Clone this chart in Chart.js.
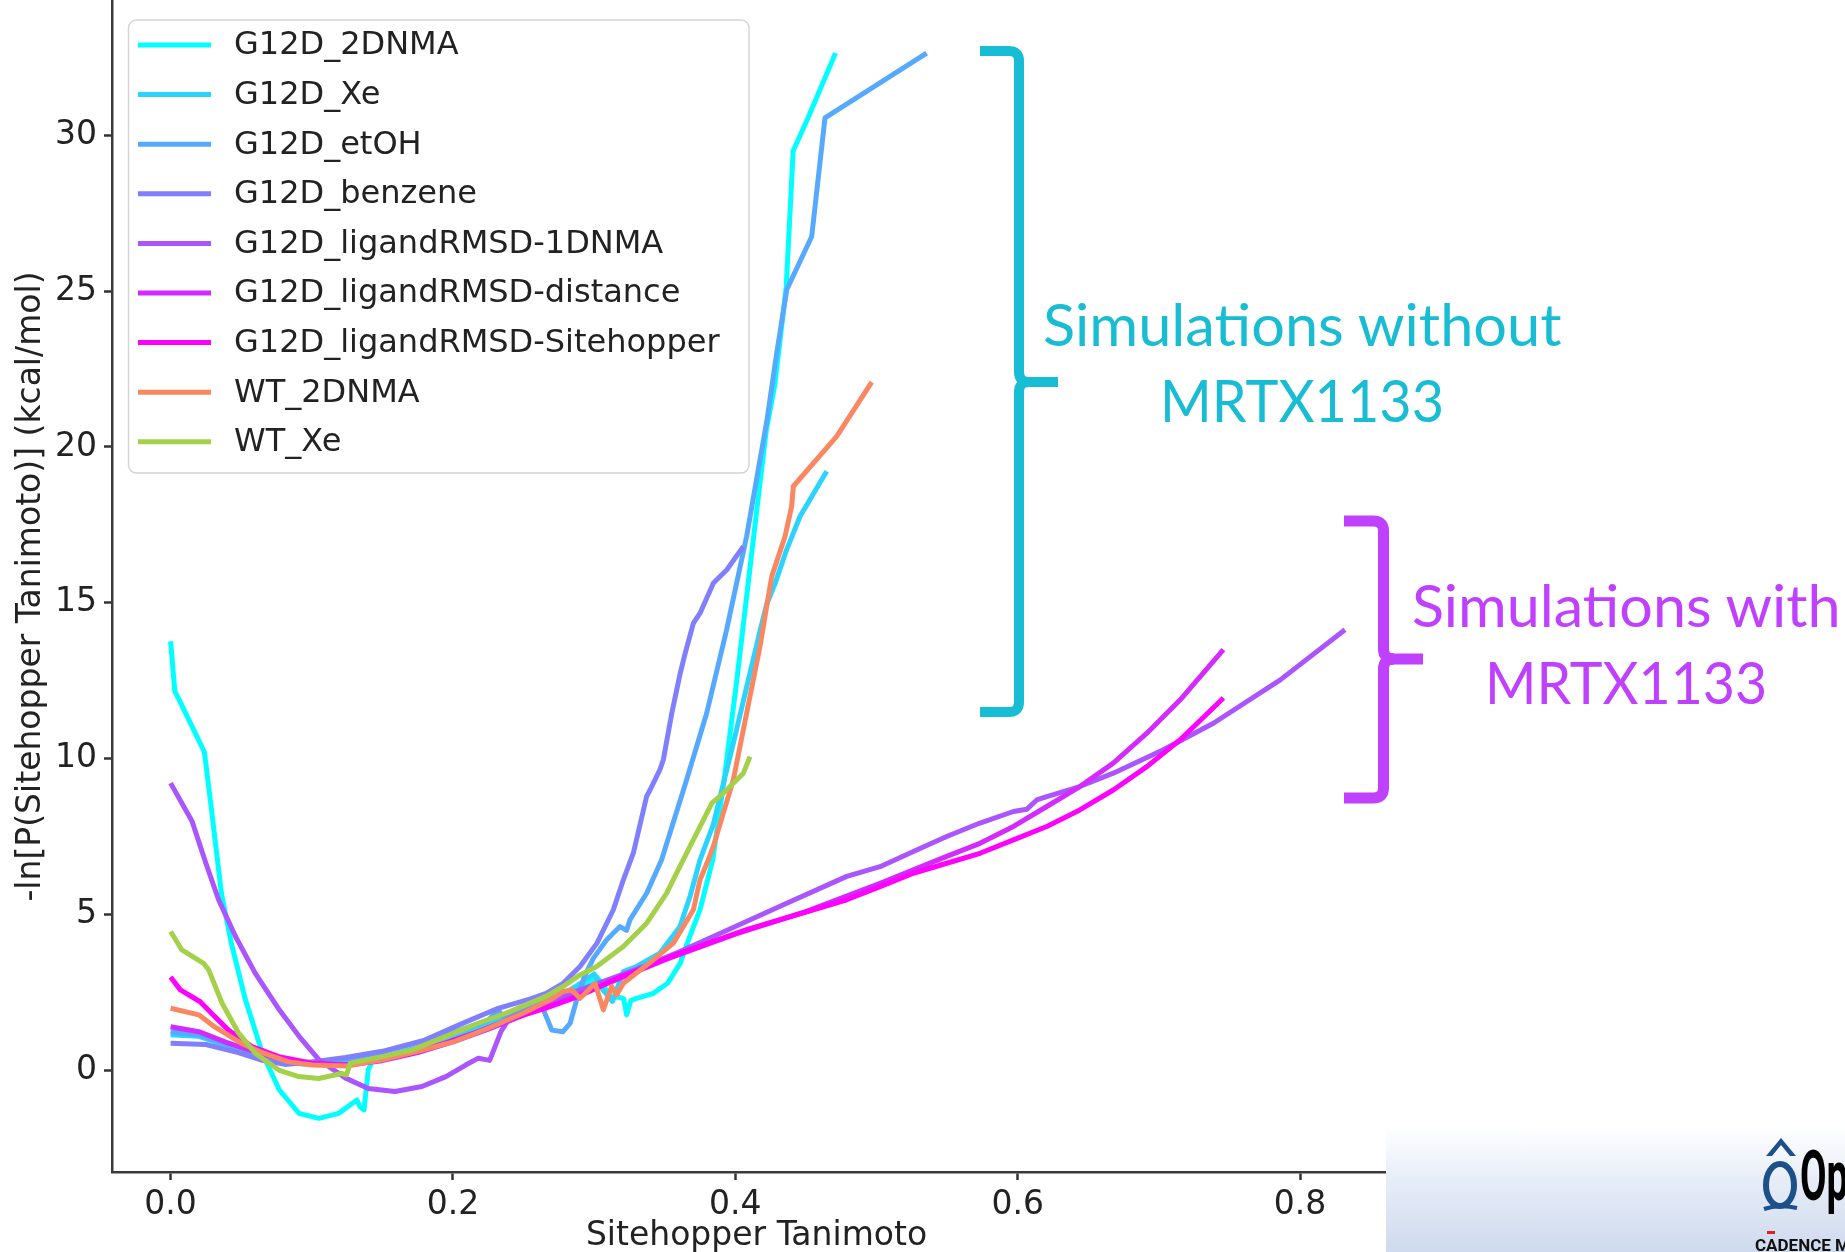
<!DOCTYPE html>
<html>
<head>
<meta charset="utf-8">
<script src="https://cdn.jsdelivr.net/npm/chart.js@4.4.1/dist/chart.umd.min.js"></script>
<style>
html, body { margin: 0; padding: 0; background: #fff; }
#stage { position: relative; width: 1845px; height: 1252px; overflow: hidden; background: #fff; }
#chart { position: absolute; left: 0; top: 0; }
#overlay { position: absolute; left: 0; top: 0; }
.ann { position: absolute; white-space: nowrap; transform-origin: 0 0; margin: 0; padding: 0; }
#panel { position: absolute; left: 1386px; top: 1126px; width: 459px; height: 126px;
  background: linear-gradient(to bottom, #ffffff 0%, #e6ecf7 45%, #cfdaee 100%); }
#reddash { position: absolute; left: 1767px; top: 1231px; width: 8px; height: 3px; background: #e02026; }
</style>
</head>
<body>
<div id="stage">
  <canvas id="chart" width="1845" height="1252"></canvas>
  <svg id="overlay" width="1845" height="1252" viewBox="0 0 1845 1252" xmlns="http://www.w3.org/2000/svg">
    <g fill="none" stroke="#17bdd4" stroke-width="10">
      <path d="M980,51 H1009 Q1019,51 1019,61 V372 Q1019,382 1029,382"/>
      <path d="M1019,382 H1058"/>
      <path d="M1029,382 Q1019,382 1019,392 V702 Q1019,712 1009,712 H980"/>
    </g>
    <g fill="none" stroke="#c040ff" stroke-width="11">
      <path d="M1344,521 H1373 Q1383.5,521 1383.5,531 V649 Q1383.5,659 1394,659"/>
      <path d="M1383.5,659 H1423"/>
      <path d="M1394,659 Q1383.5,659 1383.5,669 V788 Q1383.5,798 1373,798 H1344"/>
    </g>
  </svg>
  <div id="panel"></div>
  <svg id="logo" width="1845" height="1252" viewBox="0 0 1845 1252" style="position:absolute;left:0;top:0" xmlns="http://www.w3.org/2000/svg">
    <path d="M1766,1156 L1781,1138 L1796,1156 L1790,1156 L1781,1145 L1772,1156 Z" fill="#1d4f8b"/>
    <ellipse cx="1780" cy="1185" rx="14" ry="21" fill="none" stroke="#1d4f8b" stroke-width="6"/>
    <path d="M1764,1209 Q1780,1204 1797,1208" fill="none" stroke="#1d4f8b" stroke-width="4"/>
  </svg>
  <div id="reddash"></div>
</div>
<script>
// ---------------- data ----------------
const seriesLabels = [
  'G12D_2DNMA', 'G12D_Xe', 'G12D_etOH', 'G12D_benzene',
  'G12D_ligandRMSD-1DNMA', 'G12D_ligandRMSD-distance', 'G12D_ligandRMSD-Sitehopper',
  'WT_2DNMA', 'WT_Xe'
];
const xTickValues = [0, 0.2, 0.4, 0.6, 0.8];
const yTickValues = [0, 5, 10, 15, 20, 25, 30];

const g12d_2dnma = [[0,13.77],[0.003,12.16],[0.006,11.9],[0.022,10.4],[0.024,10.2],[0.029,8.36],[0.036,5.69],[0.043,4.09],[0.053,2.27],[0.065,0.56],[0.077,-0.62],[0.091,-1.37],[0.105,-1.53],[0.119,-1.37],[0.132,-0.94],[0.134,-1.15],[0.137,-1.26],[0.140,0.02],[0.143,0.32],[0.160,0.55],[0.180,0.78],[0.200,1.05],[0.220,1.4],[0.240,1.8],[0.260,2.1],[0.280,2.45],[0.295,2.75],[0.302,3.0],[0.307,2.7],[0.312,2.35],[0.318,2.35],[0.321,2.3],[0.323,1.79],[0.326,2.25],[0.330,2.32],[0.342,2.48],[0.352,2.8],[0.361,3.45],[0.366,4.09],[0.375,5.16],[0.384,6.76],[0.392,9.3],[0.401,12.5],[0.408,15.2],[0.415,17.9],[0.422,20.55],[0.428,22.0],[0.436,25.1],[0.441,29.5],[0.451,30.5],[0.471,32.63]];
const g12d_xe = [[0,1.15],[0.02,1.1],[0.04,0.8],[0.06,0.45],[0.08,0.25],[0.10,0.2],[0.12,0.22],[0.14,0.35],[0.16,0.55],[0.18,0.8],[0.20,1.1],[0.22,1.45],[0.24,1.85],[0.26,2.2],[0.28,2.5],[0.292,2.85],[0.300,3.1],[0.306,2.6],[0.313,2.22],[0.3207,3.18],[0.33,3.34],[0.3466,3.77],[0.3608,4.62],[0.368,5.6],[0.375,6.76],[0.3844,7.9],[0.3915,9.2],[0.3986,10.5],[0.408,12.3],[0.4175,14.1],[0.4222,14.95],[0.428,15.6],[0.4363,16.7],[0.4458,17.77],[0.4647,19.22]];
const g12d_etoh = [[0,1.25],[0.02,1.15],[0.04,0.85],[0.06,0.5],[0.08,0.3],[0.10,0.27],[0.125,0.38],[0.15,0.6],[0.175,0.9],[0.20,1.22],[0.225,1.62],[0.232,1.95],[0.236,1.7],[0.25,1.95],[0.262,2.18],[0.266,1.74],[0.27,1.3],[0.278,1.25],[0.283,1.52],[0.2876,2.27],[0.293,3.0],[0.2994,3.6],[0.3089,4.2],[0.3183,4.62],[0.323,4.5],[0.3254,4.84],[0.3372,5.69],[0.3478,6.76],[0.3655,9.33],[0.3797,11.46],[0.3938,14.13],[0.408,17.13],[0.415,18.95],[0.4222,20.8],[0.4293,23.0],[0.4364,25.04],[0.4541,26.75],[0.4635,30.55],[0.5355,32.63]];
const g12d_benzene = [[0,0.88],[0.025,0.84],[0.048,0.58],[0.065,0.33],[0.081,0.2],[0.10,0.28],[0.124,0.42],[0.15,0.62],[0.18,0.98],[0.206,1.5],[0.232,2.0],[0.255,2.3],[0.266,2.48],[0.278,2.8],[0.29,3.34],[0.302,4.09],[0.3136,5.16],[0.3207,6.12],[0.3278,6.98],[0.3372,8.8],[0.3396,9.0],[0.3466,9.65],[0.349,9.97],[0.355,11.46],[0.361,12.75],[0.3645,13.39],[0.3703,14.35],[0.375,14.67],[0.3845,15.64],[0.394,16.06],[0.4057,16.81]];
const g12d_1dnma = [[0,9.22],[0.0152,8.0],[0.025,6.65],[0.034,5.48],[0.046,4.3],[0.06,3.12],[0.077,1.95],[0.091,1.1],[0.105,0.35],[0.124,-0.24],[0.14,-0.57],[0.159,-0.67],[0.178,-0.51],[0.195,-0.19],[0.209,0.18],[0.218,0.4],[0.226,0.33],[0.234,1.25],[0.24,1.68],[0.26,2.05],[0.28,2.42],[0.30,2.75],[0.33,3.25],[0.36,3.8],[0.3844,4.3],[0.4317,5.27],[0.4789,6.23],[0.5025,6.54],[0.5261,7.03],[0.5497,7.51],[0.5733,7.94],[0.597,8.31],[0.6064,8.38],[0.6135,8.68],[0.6206,8.79],[0.644,9.11],[0.6677,9.54],[0.7032,10.29],[0.7386,11.14],[0.786,12.53],[0.8318,14.14]];
const g12d_distance = [[0,1.41],[0.02,1.25],[0.04,0.9],[0.06,0.6],[0.08,0.35],[0.10,0.22],[0.125,0.18],[0.15,0.32],[0.175,0.58],[0.20,0.92],[0.225,1.33],[0.25,1.78],[0.275,2.18],[0.30,2.62],[0.35,3.55],[0.40,4.38],[0.45,5.1],[0.5025,6.01],[0.5261,6.44],[0.5497,6.87],[0.5733,7.29],[0.597,7.83],[0.6206,8.47],[0.644,9.11],[0.6677,9.86],[0.6915,10.82],[0.7151,11.89],[0.7457,13.5]];
const g12d_sitehopper = [[0,3.0],[0.0069,2.59],[0.021,2.21],[0.029,1.84],[0.041,1.3],[0.0576,0.77],[0.0766,0.45],[0.10,0.24],[0.1237,0.18],[0.1473,0.34],[0.1709,0.56],[0.1945,0.88],[0.218,1.25],[0.2417,1.68],[0.2653,2.0],[0.2889,2.38],[0.3136,2.91],[0.3608,3.77],[0.408,4.52],[0.4553,5.16],[0.4789,5.48],[0.5025,5.9],[0.5261,6.33],[0.5497,6.65],[0.5733,6.97],[0.597,7.4],[0.6206,7.83],[0.644,8.36],[0.6677,9.0],[0.6915,9.75],[0.7151,10.61],[0.7457,11.95]];
const wt_2dnma = [[0,2.0],[0.02,1.79],[0.031,1.41],[0.05,0.88],[0.066,0.56],[0.083,0.29],[0.10,0.18],[0.125,0.15],[0.15,0.35],[0.175,0.62],[0.20,0.92],[0.225,1.36],[0.25,1.85],[0.27,2.3],[0.278,2.54],[0.284,2.59],[0.29,2.32],[0.295,2.54],[0.3006,2.8],[0.3065,1.95],[0.3124,2.7],[0.3159,2.43],[0.3207,2.8],[0.3254,2.97],[0.3419,3.55],[0.3561,4.09],[0.3703,5.16],[0.375,6.12],[0.3809,6.76],[0.3844,7.19],[0.3915,8.26],[0.3986,9.33],[0.408,11.46],[0.4175,13.61],[0.4222,14.89],[0.4258,15.85],[0.4352,17.13],[0.4399,18.1],[0.4411,18.74],[0.4718,20.34],[0.4966,22.08]];
const wt_xe = [[0,4.46],[0.008,3.87],[0.0234,3.44],[0.027,3.23],[0.0364,2.17],[0.0482,1.2],[0.06,0.56],[0.0766,0.02],[0.0907,-0.19],[0.1049,-0.25],[0.1212,-0.09],[0.1245,-0.14],[0.1273,0.24],[0.15,0.45],[0.1709,0.66],[0.1945,1.09],[0.218,1.52],[0.2375,1.84],[0.2658,2.38],[0.278,2.7],[0.29,3.07],[0.3018,3.34],[0.3207,3.98],[0.3372,4.73],[0.3514,5.69],[0.356,6.12],[0.3679,7.19],[0.3834,8.58],[0.3916,8.9],[0.4057,9.54],[0.4104,10.07]];

const seriesData = [g12d_2dnma, g12d_xe, g12d_etoh, g12d_benzene, g12d_1dnma, g12d_distance, g12d_sitehopper, wt_2dnma, wt_xe];

// ---------------- styling / layout ----------------
const seriesColors = ['#00ffff', '#2ad4ff', '#55aaff', '#807fff', '#aa55ff', '#d42aff', '#ff00ff', '#f98862', '#a4d04a'];
const X_MIN = -0.0415, X_MAX = 0.8715, Y_MIN = -3.25, Y_MAX = 34.3;
const FONT = "'DejaVu Sans'";
const TXT = '#222222';

const datasets = seriesData.map((pts, i) => ({
  label: seriesLabels[i],
  data: pts.map(p => ({ x: p[0], y: p[1] })),
  borderColor: seriesColors[i],
  backgroundColor: seriesColors[i],
  borderWidth: 5,
  pointRadius: 0,
  tension: 0,
  fill: false,
  borderJoinStyle: 'round',
  order: -i
}));

const legendPlugin = {
  id: 'mplLegend',
  afterDraw(chart) {
    const ctx = chart.ctx;
    ctx.save();
    ctx.beginPath();
    ctx.roundRect(128.5, 20, 620.5, 453, 8);
    ctx.fillStyle = 'rgba(255,255,255,0.8)';
    ctx.fill();
    ctx.lineWidth = 1.5;
    ctx.strokeStyle = '#d5d5d5';
    ctx.stroke();
    ctx.font = '32px ' + FONT;
    ctx.textBaseline = 'middle';
    ctx.textAlign = 'left';
    chart.data.datasets.forEach((ds, i) => {
      const y = 45 + 49.6 * i;
      ctx.beginPath();
      ctx.moveTo(138, y);
      ctx.lineTo(211, y);
      ctx.strokeStyle = ds.borderColor;
      ctx.lineWidth = 5;
      ctx.lineCap = 'butt';
      ctx.stroke();
      ctx.fillStyle = TXT;
      ctx.fillText(ds.label, 234, y + 1);
    });
    ctx.restore();
  }
};

new Chart(document.getElementById('chart'), {
  type: 'line',
  data: { datasets },
  options: {
    responsive: false,
    animation: false,
    devicePixelRatio: 1,
    layout: { padding: { left: 0, right: 1845 - 1401, top: 1, bottom: 0 } },
    plugins: { legend: { display: false }, tooltip: { enabled: false } },
    scales: {
      x: {
        type: 'linear', min: X_MIN, max: X_MAX,
        afterBuildTicks: s => { s.ticks = xTickValues.map(v => ({ value: v })); },
        afterFit: s => { s.height = 80; s.paddingLeft = 0; s.paddingRight = 0; },
        ticks: { font: { family: FONT, size: 33 }, color: TXT, padding: 6, maxRotation: 0, autoSkip: false,
                 callback: v => Number(v).toFixed(1) },
        grid: { drawOnChartArea: false, drawTicks: true, tickLength: 8, tickWidth: 2.5, tickColor: '#333' },
        border: { display: true, color: '#3a3a3a', width: 2.5 },
        title: { display: true, text: 'Sitehopper Tanimoto', font: { family: FONT, size: 33 }, color: TXT,
                 padding: { top: 0, bottom: -4 } }
      },
      y: {
        type: 'linear', min: Y_MIN, max: Y_MAX,
        afterBuildTicks: s => { s.ticks = yTickValues.map(v => ({ value: v })); },
        afterFit: s => { s.width = 112; s.paddingTop = 0; s.paddingBottom = 0; },
        ticks: { font: { family: FONT, size: 33 }, color: TXT, padding: 7, autoSkip: false,
                 callback: v => String(v) },
        grid: { drawOnChartArea: false, drawTicks: true, tickLength: 8, tickWidth: 2.5, tickColor: '#333' },
        border: { display: true, color: '#3a3a3a', width: 2.5 },
        title: { display: true, text: '-ln[P(Sitehopper Tanimoto)] (kcal/mol)', font: { family: FONT, size: 33 },
                 color: TXT, padding: { top: 12, bottom: 0 } }
      }
    }
  },
  plugins: [legendPlugin]
});

// ---------------- slide annotations (HTML text) ----------------
const stage = document.getElementById('stage');
const mctx = document.createElement('canvas').getContext('2d');
function placeText(text, o) {
  let fs = o.fontSize;
  mctx.font = `${o.weight} ${fs}px ${o.family}`;
  const t = mctx.measureText(text);
  const inkW = t.actualBoundingBoxLeft + t.actualBoundingBoxRight;
  const sx = o.sx != null ? o.sx : (o.right - o.left) / inkW;
  const asc = t.fontBoundingBoxAscent, desc = t.fontBoundingBoxDescent;
  const half = (fs - (asc + desc)) / 2;
  const el = document.createElement('div');
  el.className = 'ann';
  el.textContent = text;
  el.style.font = `${o.weight} ${fs}px ${o.family}`;
  el.style.lineHeight = fs + 'px';
  el.style.color = o.color;
  el.style.left = (o.left + t.actualBoundingBoxLeft * sx) + 'px';
  el.style.top = (o.baseline - half - asc) + 'px';
  el.style.transform = `scaleX(${sx})`;
  stage.appendChild(el);
}
const annFont = "'Lato'";
mctx.font = `400 100px ${annFont}`;
const annFs = 42 / (mctx.measureText('H').actualBoundingBoxAscent / 100);
placeText('Simulations without', { family: annFont, weight: 400, color: '#18bcd3', fontSize: annFs, left: 1043.7, right: 1562.8, baseline: 346 });
placeText('MRTX1133', { family: annFont, weight: 400, color: '#18bcd3', fontSize: annFs, left: 1164.8, right: 1441.7, baseline: 422 });
placeText('Simulations with', { family: annFont, weight: 400, color: '#c040ff', fontSize: annFs, left: 1412.7, right: 1838.3, baseline: 627 });
placeText('MRTX1133', { family: annFont, weight: 400, color: '#c040ff', fontSize: annFs, left: 1490, right: 1765, baseline: 704 });
// logo texts (cut off by the right edge of the slide)
placeText('OpenEye', { family: "'Roboto'", weight: 700, color: '#000', fontSize: 70, sx: 0.55, left: 1801, baseline: 1200 });
placeText('CADENCE MOLECULAR SCIENCES', { family: "'Roboto'", weight: 700, color: '#111', fontSize: 17, sx: 1, left: 1755, baseline: 1251 });
</script>
</body>
</html>
